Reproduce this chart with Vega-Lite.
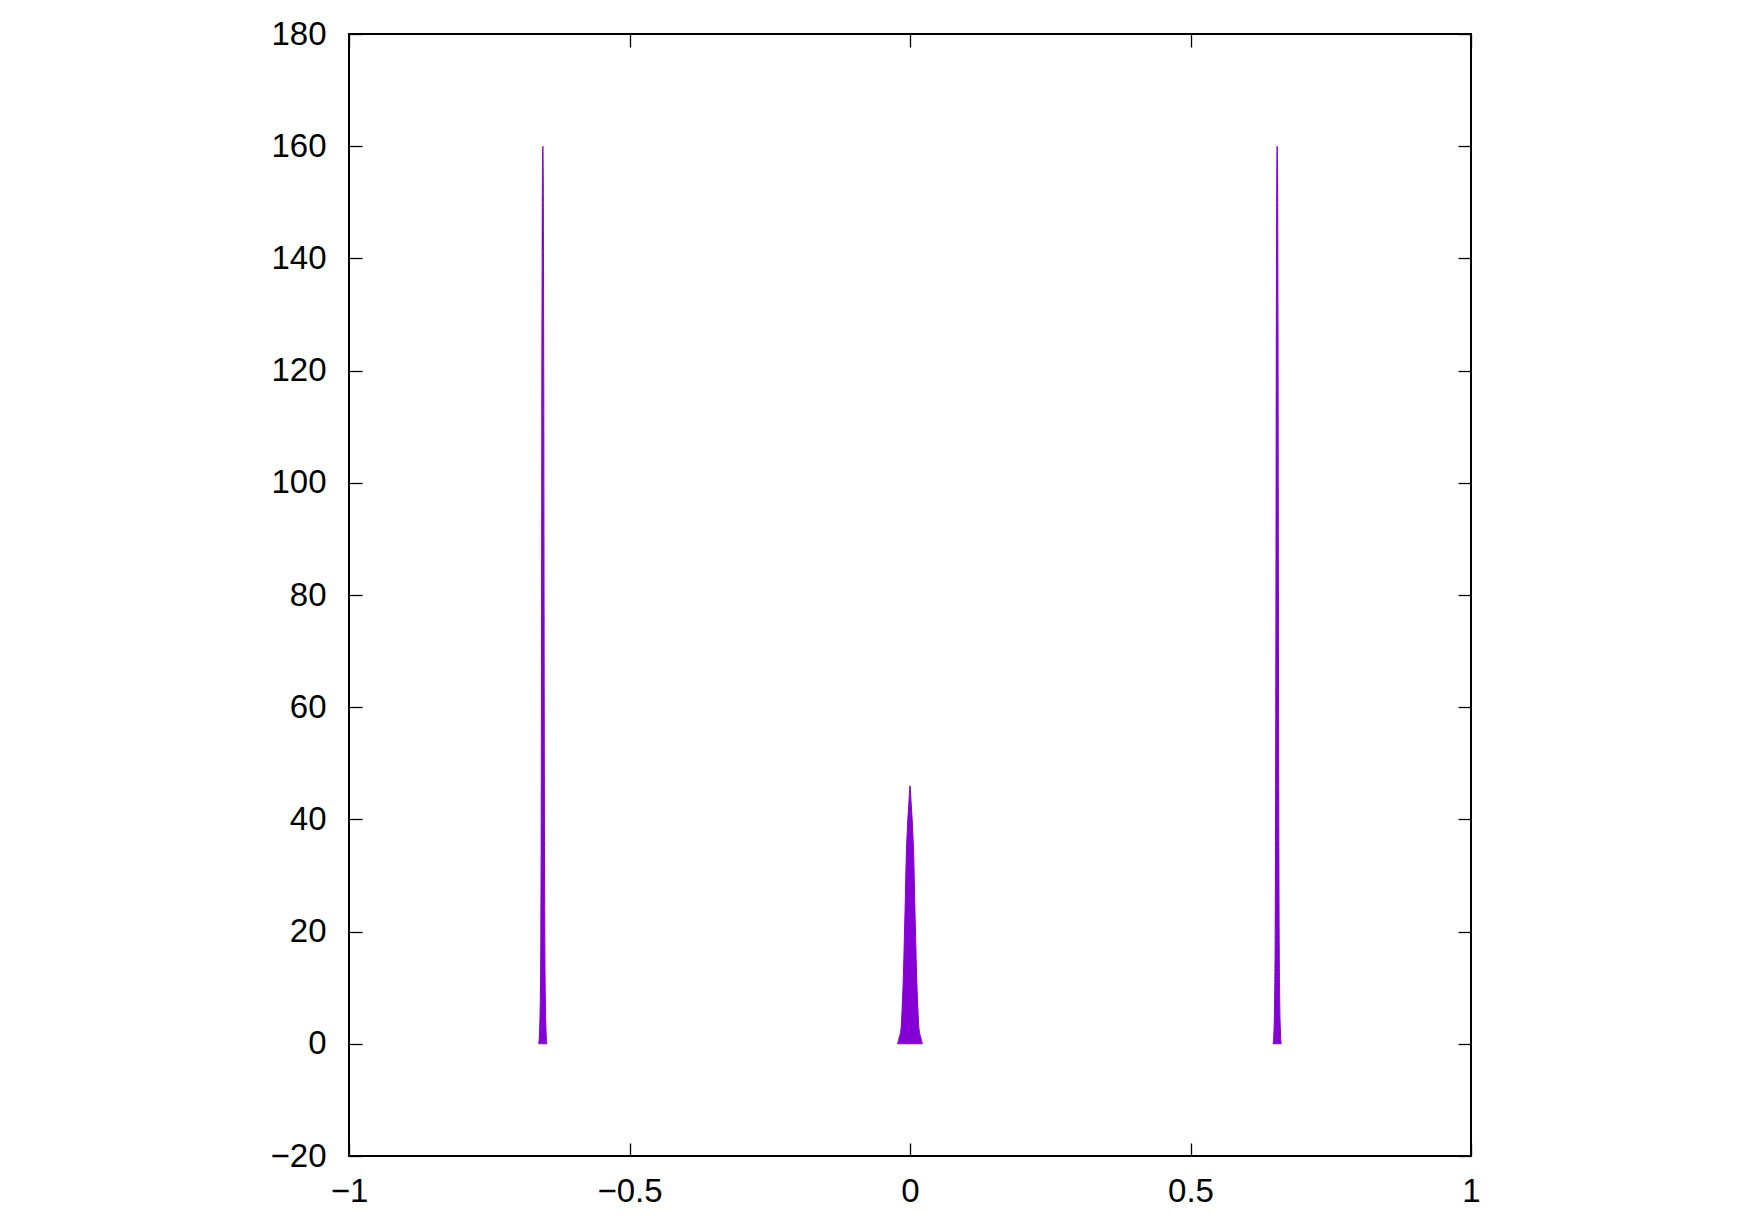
{
  "$schema": "https://vega.github.io/schema/vega-lite/v6.json",
  "width": 1122,
  "height": 1122,
  "autosize": {"type": "none"},
  "padding": {"left": 349, "top": 34, "right": 278, "bottom": 69},
  "background": "white",
  "config": {
    "view": {"stroke": "black", "strokeWidth": 2},
    "axis": {
      "domain": false,
      "grid": false,
      "ticks": true,
      "tickColor": "black",
      "tickWidth": 1.3,
      "tickSize": -13,
      "labelFont": "Liberation Sans",
      "labelFontSize": 33,
      "labelColor": "black",
      "labelFlush": false,
      "labelOverlap": false,
      "title": null
    }
  },
  "data": {
    "values": [
      {"p": "L", "x": -0.6617, "y": 0},
      {"p": "L", "x": -0.66, "y": 3},
      {"p": "L", "x": -0.659, "y": 8},
      {"p": "L", "x": -0.658, "y": 20},
      {"p": "L", "x": -0.6575, "y": 35},
      {"p": "L", "x": -0.657, "y": 60},
      {"p": "L", "x": -0.6567, "y": 80},
      {"p": "L", "x": -0.6563, "y": 110},
      {"p": "L", "x": -0.6557, "y": 140},
      {"p": "L", "x": -0.6552, "y": 155},
      {"p": "L", "x": -0.6545, "y": 160},
      {"p": "L", "x": -0.6538, "y": 155},
      {"p": "L", "x": -0.6533, "y": 140},
      {"p": "L", "x": -0.6527, "y": 110},
      {"p": "L", "x": -0.6523, "y": 80},
      {"p": "L", "x": -0.652, "y": 60},
      {"p": "L", "x": -0.6515, "y": 35},
      {"p": "L", "x": -0.651, "y": 20},
      {"p": "L", "x": -0.65, "y": 8},
      {"p": "L", "x": -0.649, "y": 3},
      {"p": "L", "x": -0.6473, "y": 0},
      {"p": "C", "x": -0.022, "y": 0},
      {"p": "C", "x": -0.0205, "y": 0.6},
      {"p": "C", "x": -0.019, "y": 1.2},
      {"p": "C", "x": -0.0157, "y": 3},
      {"p": "C", "x": -0.0134, "y": 7.8},
      {"p": "C", "x": -0.0125, "y": 10},
      {"p": "C", "x": -0.011, "y": 15},
      {"p": "C", "x": -0.0098, "y": 20},
      {"p": "C", "x": -0.0085, "y": 25},
      {"p": "C", "x": -0.0068, "y": 32.8},
      {"p": "C", "x": -0.0045, "y": 38.7},
      {"p": "C", "x": -0.002, "y": 43},
      {"p": "C", "x": 0, "y": 46},
      {"p": "C", "x": 0.002, "y": 43},
      {"p": "C", "x": 0.0045, "y": 38.7},
      {"p": "C", "x": 0.0068, "y": 32.8},
      {"p": "C", "x": 0.0085, "y": 25},
      {"p": "C", "x": 0.0098, "y": 20},
      {"p": "C", "x": 0.011, "y": 15},
      {"p": "C", "x": 0.0125, "y": 10},
      {"p": "C", "x": 0.0134, "y": 7.8},
      {"p": "C", "x": 0.0157, "y": 3},
      {"p": "C", "x": 0.019, "y": 1.2},
      {"p": "C", "x": 0.0205, "y": 0.6},
      {"p": "C", "x": 0.022, "y": 0},
      {"p": "R", "x": 0.6473, "y": 0},
      {"p": "R", "x": 0.649, "y": 3},
      {"p": "R", "x": 0.65, "y": 8},
      {"p": "R", "x": 0.651, "y": 20},
      {"p": "R", "x": 0.6515, "y": 35},
      {"p": "R", "x": 0.652, "y": 60},
      {"p": "R", "x": 0.6523, "y": 80},
      {"p": "R", "x": 0.6527, "y": 110},
      {"p": "R", "x": 0.6533, "y": 140},
      {"p": "R", "x": 0.6538, "y": 155},
      {"p": "R", "x": 0.6545, "y": 160},
      {"p": "R", "x": 0.6552, "y": 155},
      {"p": "R", "x": 0.6557, "y": 140},
      {"p": "R", "x": 0.6563, "y": 110},
      {"p": "R", "x": 0.6567, "y": 80},
      {"p": "R", "x": 0.657, "y": 60},
      {"p": "R", "x": 0.6575, "y": 35},
      {"p": "R", "x": 0.658, "y": 20},
      {"p": "R", "x": 0.659, "y": 8},
      {"p": "R", "x": 0.66, "y": 3},
      {"p": "R", "x": 0.6617, "y": 0}
    ]
  },
  "layer": [
    {
      "mark": {"type": "area", "color": "#8400D4", "stroke": "#8400D4", "strokeWidth": 1, "interpolate": "monotone"},
      "encoding": {
        "x": {
          "field": "x", "type": "quantitative",
          "scale": {"domain": [-1, 1], "nice": false, "zero": false},
          "axis": {"orient": "bottom", "values": [-1, -0.5, 0, 0.5, 1], "format": "~g", "labelPadding": 32}
        },
        "y": {
          "field": "y", "type": "quantitative", "stack": null,
          "scale": {"domain": [-20, 180], "nice": false},
          "axis": {"orient": "left", "values": [-20, 0, 20, 40, 60, 80, 100, 120, 140, 160, 180], "format": "d", "labelPadding": 36}
        },
        "detail": {"field": "p", "type": "nominal"}
      }
    },
    {
      "mark": {"type": "point", "opacity": 0},
      "encoding": {
        "x": {
          "field": "x", "type": "quantitative",
          "axis": {"orient": "top", "values": [-1, -0.5, 0, 0.5, 1], "labels": false}
        },
        "y": {
          "field": "y", "type": "quantitative",
          "axis": {"orient": "right", "values": [-20, 0, 20, 40, 60, 80, 100, 120, 140, 160, 180], "labels": false}
        }
      }
    }
  ],
  "resolve": {"axis": {"x": "independent", "y": "independent"}}
}
